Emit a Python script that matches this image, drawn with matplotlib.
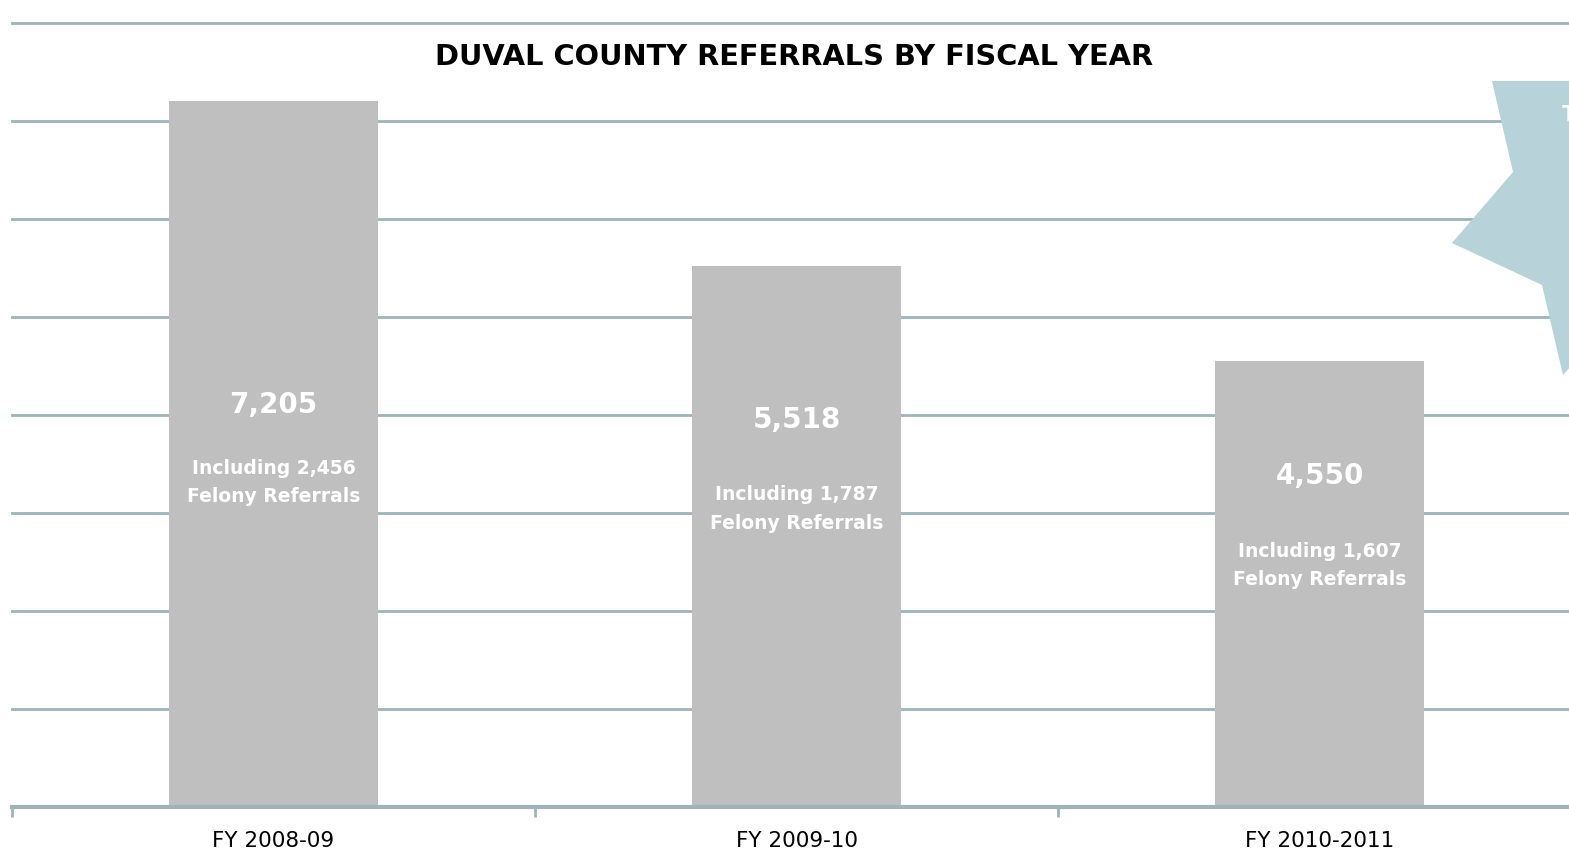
import matplotlib.pyplot as plt
from matplotlib.patches import Polygon

years = ['FY 2008-09', 'FY 2009-10', 'FY 2010-2011']
referrals = [7205, 5518, 4550]
felony = [2456, 1787, 1607]

# where the labels sit inside each bar (data units)
value_label_y = [4100, 3950, 3380]
felony_label_y = [3310, 3040, 2465]

W, H = 1569, 851
grid_color = '#9fb3bb'
bar_color = '#bfbfbf'
star_color = '#b7d2d9'

fig = plt.figure(figsize=(W / 100, H / 100), dpi=100)
# plot area is wider than the page, the last category runs off the right edge
ax = fig.add_axes([12 / W, 44 / H, 4 * 523 / W, 784 / H])

x = list(range(len(years)))
ax.bar(x, referrals, width=0.4, color=bar_color, zorder=2)

ax.set_xlim(-0.5, 3.5)
ax.set_ylim(0, 8000)
ax.set_yticks(range(1000, 8001, 1000))
ax.yaxis.grid(True, color=grid_color, linewidth=2)
for gl in ax.get_ygridlines():
    gl.set_clip_on(False)
ax.set_axisbelow(True)
ax.tick_params(axis='y', left=False, labelleft=False)

for s in ['top', 'right', 'left']:
    ax.spines[s].set_visible(False)
ax.spines['bottom'].set_color(grid_color)
ax.spines['bottom'].set_linewidth(3)

# category separators as ticks, names centred under the bars
ax.set_xticks([-0.5, 0.5, 1.5, 2.5, 3.5])
ax.set_xticklabels([])
ax.tick_params(axis='x', which='major', length=7, width=2, color=grid_color)
ax.set_xticks(x, minor=True)
ax.set_xticklabels(years, minor=True, fontsize=15.5)
ax.tick_params(axis='x', which='minor', length=0, pad=17)

for i in x:
    ax.text(i, value_label_y[i], f'{referrals[i]:,}', ha='center', va='center',
            color='white', fontsize=20, fontweight='bold')
    ax.text(i, felony_label_y[i], f'Including {felony[i]:,}\nFelony Referrals',
            ha='center', va='center', color='white', fontsize=13.5,
            fontweight='bold', linespacing=1.65)

fig.text(794 / W, 1 - 57 / H, 'DUVAL COUNTY REFERRALS BY FISCAL YEAR',
         ha='center', va='center', fontsize=20.8, fontweight='bold')

# burst callout in the upper right corner
pts = [(1492, 81), (1513, 172), (1452, 243), (1542, 285), (1563, 375),
       (1640, 290), (1640, 81)]
star = Polygon([(px / W, 1 - py / H) for px, py in pts], closed=True,
               transform=fig.transFigure, facecolor=star_color,
               edgecolor='none', zorder=5)
fig.patches.append(star)
fig.text(1562 / W, 1 - 115 / H, 'The', color='white', fontsize=15,
         fontweight='bold', va='center', ha='left', zorder=6)

fig.savefig('out.png', dpi=100)
